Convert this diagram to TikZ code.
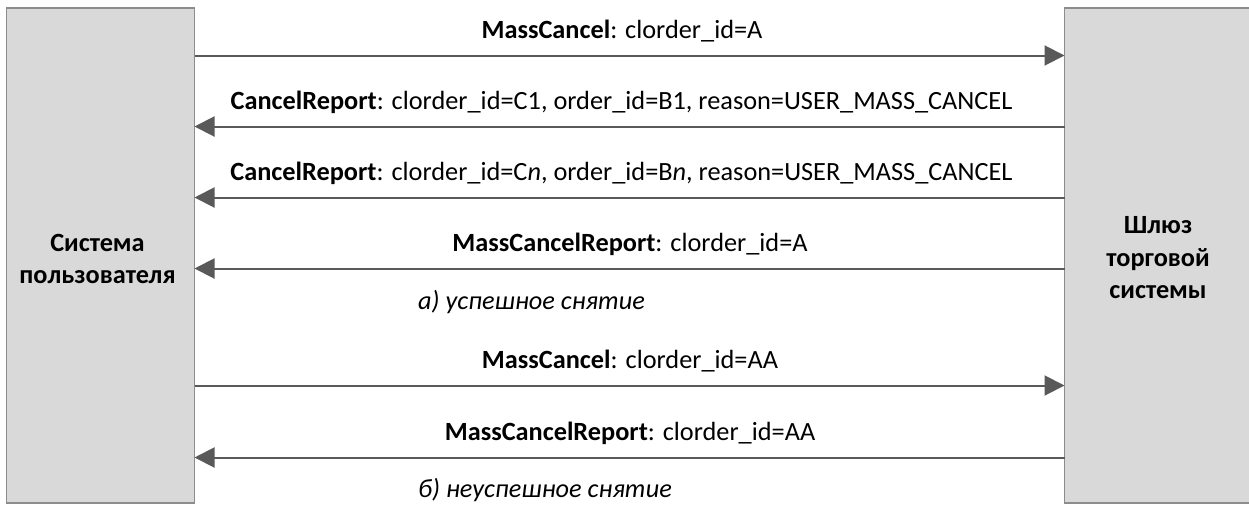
\documentclass[tikz,border=0pt]{standalone}
\usepackage{fontspec}
\setmainfont{Carlito}
\usetikzlibrary{arrows.meta}
\definecolor{boxfill}{HTML}{D9D9D9}
\definecolor{boxdraw}{HTML}{8C8C8C}
\definecolor{arr}{HTML}{595959}
\begin{document}
\begin{tikzpicture}[x=1pt,y=-1pt,
  party/.style={draw=boxdraw,fill=boxfill,line width=1.2pt},
  msg/.style={draw=arr,line width=2pt,-{Triangle[length=20pt,width=20pt]}},
  lbl/.style={font=\fontsize{26.3}{30}\selectfont,inner sep=0pt,anchor=base},
  captext/.style={font=\fontsize{26.3}{30}\selectfont\itshape,inner sep=0pt,anchor=base west},
  plbl/.style={font=\fontsize{26.3}{32.5}\selectfont\bfseries,align=center,inner sep=0pt}]
\useasboundingbox (0,0) rectangle (1249,504);
\draw[party] (6.5,8) rectangle (194.5,503);
\draw[party] (1064.5,8) rectangle (1260,503);
\node[plbl] (user) at (97.5,259) {Система\\пользователя};
\node[plbl] (gw) at (1158,258) {Шлюз\\торговой\\системы};
\coordinate (L1) at (194.5,55.5); \coordinate (R1) at (1064.5,55.5);
\coordinate (L2) at (194.5,126.5); \coordinate (R2) at (1064.5,126.5);
\coordinate (L3) at (194.5,197.5); \coordinate (R3) at (1064.5,197.5);
\coordinate (L4) at (194.5,268.5); \coordinate (R4) at (1064.5,268.5);
\coordinate (L5) at (194.5,385.5); \coordinate (R5) at (1064.5,385.5);
\coordinate (L6) at (194.5,457.5); \coordinate (R6) at (1064.5,457.5);
\draw[msg] (L1) -- (R1);
\draw[msg] (R2) -- (L2);
\draw[msg] (R3) -- (L3);
\draw[msg] (R4) -- (L4);
\draw[msg] (L5) -- (R5);
\draw[msg] (R6) -- (L6);
\node[lbl] (m1) at (622,38) {\textbf{MassCancel}: clorder\_id=A};
\node[lbl] (m2) at (621.5,109) {\textbf{CancelReport}: clorder\_id=C1, order\_id=B1, reason=USER\_MASS\_CANCEL};
\node[lbl] (m3) at (621.5,180) {\textbf{CancelReport}: clorder\_id=C\textit{n}, order\_id=B\textit{n}, reason=USER\_MASS\_CANCEL};
\node[lbl] (m4) at (630,251) {\textbf{MassCancelReport}: clorder\_id=A};
\node[captext] (ca) at (418,309) {а) успешное снятие};
\node[lbl] (m5) at (630,368) {\textbf{MassCancel}: clorder\_id=AA};
\node[lbl] (m6) at (630,440) {\textbf{MassCancelReport}: clorder\_id=AA};
\node[captext] (cb) at (418,497) {б) неуспешное снятие};
\end{tikzpicture}
\end{document}
